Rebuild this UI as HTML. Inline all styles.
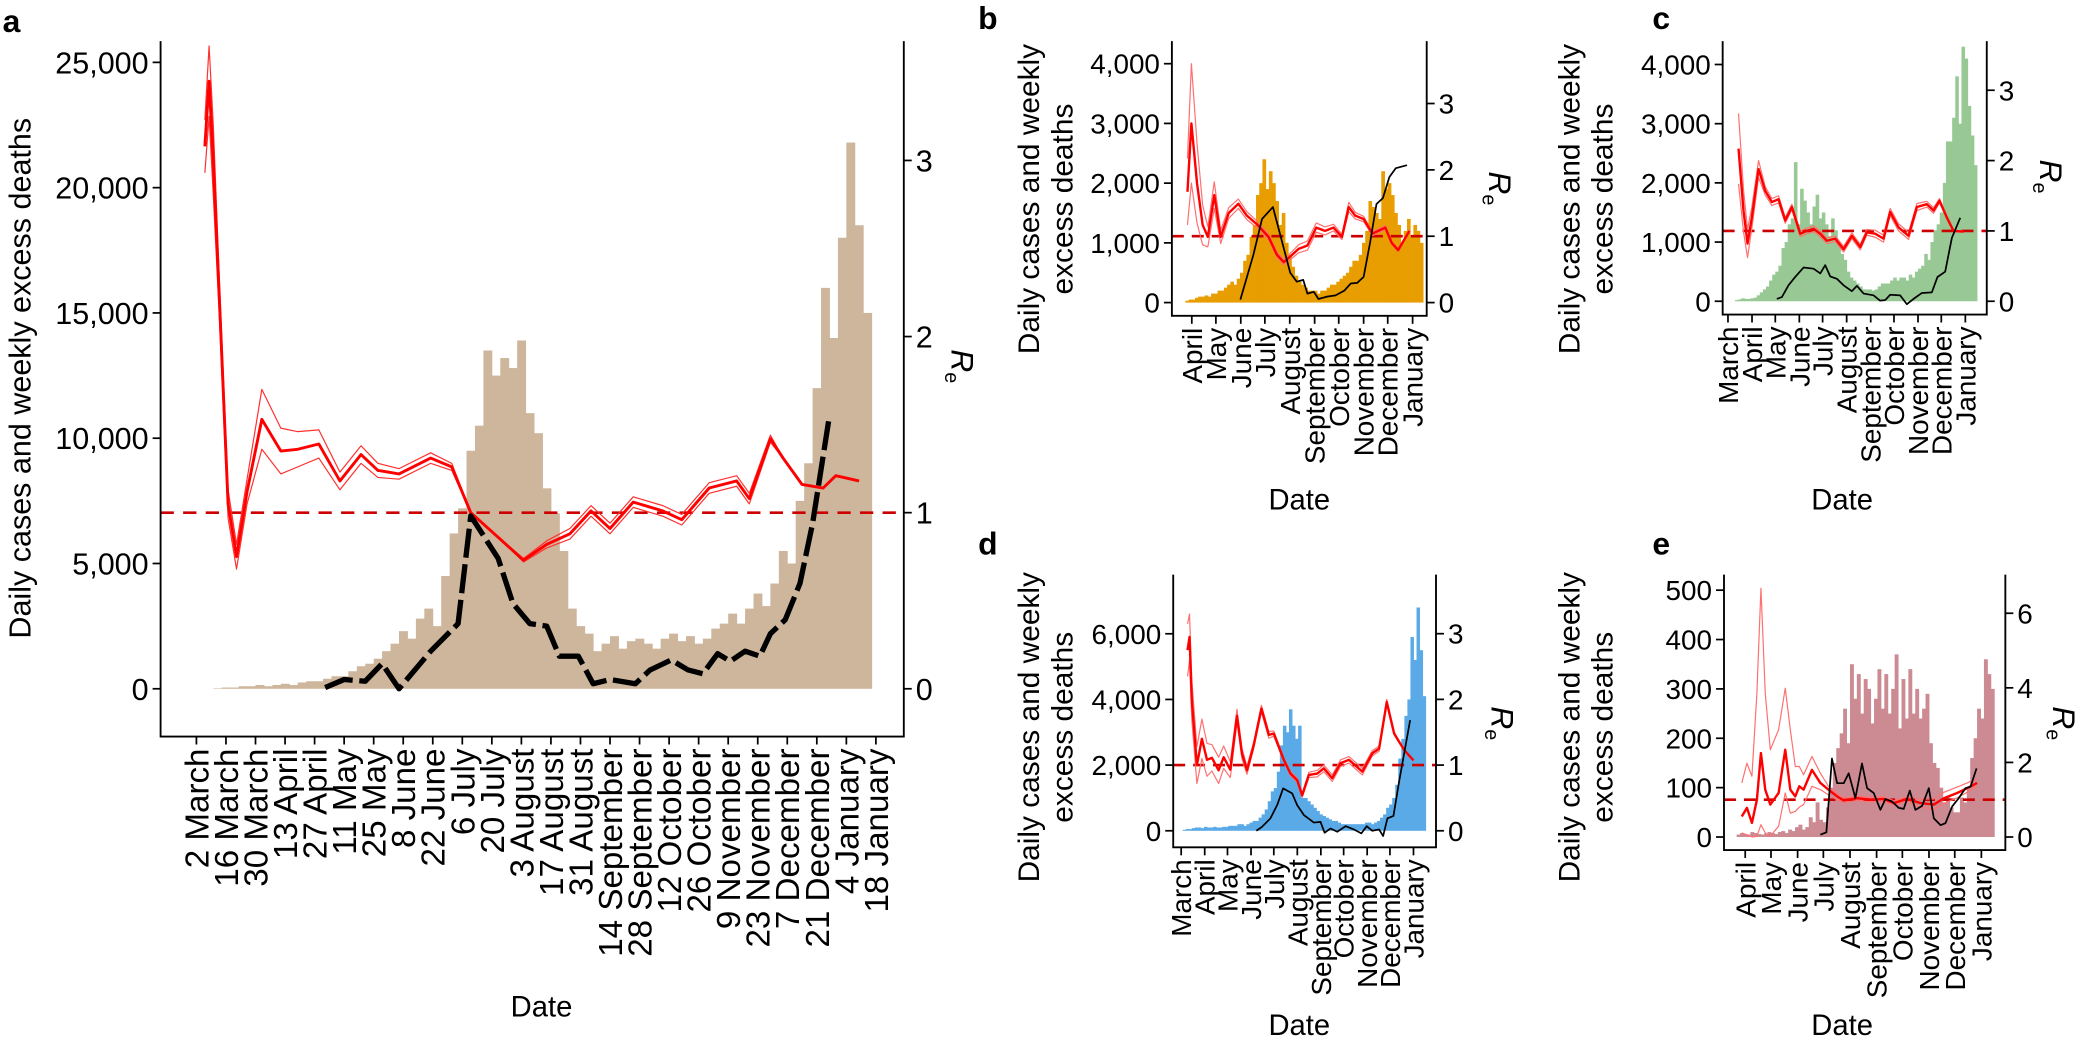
<!DOCTYPE html>
<html><head><meta charset="utf-8"><style>
html,body{margin:0;padding:0;background:#fff;}
svg{display:block;font-family:"Liberation Sans",Arial,sans-serif;}
</style></head><body>
<svg id="fig" xmlns="http://www.w3.org/2000/svg" width="2081" height="1052" viewBox="0 0 1568 792.7" preserveAspectRatio="none"></svg>
<script>
// ---------- DATA ----------
const aDateLabels=['2 March','16 March','30 March','13 April','27 April','11 May','25 May','8 June','22 June','6 July','20 July','3 August','17 August','31 August','14 September','28 September','12 October','26 October','9 November','23 November','7 December','21 December','4 January','18 January'];
const aDateDays=[62,76,90,104,118,132,146,160,174,188,202,216,230,244,258,272,286,300,314,328,342,356,370,384];
const monthsAJ=['April','May','June','July','August','September','October','November','December','January'];
const monthDaysAJ=[92,122,153,183,214,245,275,306,336,367];
const monthsMJ=['March','April','May','June','July','August','September','October','November','December','January'];
const monthDaysMJ=[61,92,122,153,183,214,245,275,306,336,367];

// panel a (bars in thousands, 4-day bins from day 62)
const aBars=[0,0,0.02,0.05,0.05,0.1,0.1,0.15,0.1,0.15,0.2,0.15,0.25,0.3,0.3,
0.4,0.5,0.5,0.7,0.9,1.0,1.2,1.5,1.8,
2.3,2.0,2.8,3.2,2.5,4.5,6.2,7.2,
9.5,10.5,13.5,12.5,13.2,12.8,13.9,11.0,
10.2,8.0,7.0,5.5,3.2,2.5,2.2,
1.5,1.8,2.1,1.6,1.9,2.0,1.8,1.6,2.0,2.2,1.9,2.1,1.8,2.0,2.4,2.6,
3.0,2.6,3.2,3.8,3.3,4.2,5.5,5.0,
7.5,9.0,12.0,16.0,14.0,18.0,21.8,18.5,15.0];
const aReDays=[66,68,70,73,77,81,86,93,102,110,120,130,140,148,158,173,183,192,205,217,228,239,249,258,269,283,292,305,318,324,334,340,349,359,365,376];
const aReMid=[3.08,3.45,3.0,2.18,1.05,0.75,1.12,1.53,1.35,1.36,1.39,1.18,1.33,1.24,1.22,1.31,1.26,1.0,0.86,0.73,0.82,0.88,1.01,0.91,1.06,1.01,0.96,1.14,1.18,1.08,1.42,1.31,1.16,1.14,1.21,1.18];
const aReHw=[0.15,0.2,0.2,0.1,0.08,0.07,0.07,0.17,0.13,0.1,0.08,0.05,0.05,0.04,0.03,0.03,0.02,0,0,0.01,0.02,0.03,0.03,0.03,0.03,0.03,0.03,0.03,0.03,0.03,0.02,0,0,0,0,0];
const aBlkDays=[123,132,142,150,158,173,186,192,205,212,220,228,234,243,250,258,270,277,287,295,302,309,315,322,329,334,341,348,354,362];
const aBlkVals=[0.05,0.37,0.3,1.0,0,1.5,2.6,6.9,5.2,3.4,2.6,2.5,1.3,1.3,0.2,0.37,0.2,0.75,1.15,0.75,0.6,1.4,1.1,1.5,1.3,2.2,2.75,4.2,6.6,10.9];

// panel b
const bBars=[0.03,0.05,0.05,0.08,0.1,0.1,0.12,0.1,0.15,
0.15,0.2,0.2,0.25,0.3,0.35,0.3,0.4,
0.5,0.7,0.8,1.1,1.3,1.8,2.0,
2.4,1.9,2.2,2.0,1.7,1.3,1.5,1.0,
0.8,0.6,0.45,0.35,0.3,0.25,0.2,0.2,
0.2,0.15,0.2,0.2,0.25,0.3,0.3,0.35,
0.4,0.45,0.5,0.6,0.7,0.7,0.8,1.0,
1.2,1.7,1.6,1.5,1.4,2.2,1.9,2.0,
1.8,1.5,1.3,1.0,1.2,1.4,1.1,1.3,1.2,1.0];
const bReDays=[86.6,91.5,98.5,105.5,112,120,128,138,150,160.6,174,187.6,198,206.5,217,225,236,247,258,268.5,279,287.5,295.5,306,317,333,341,349,363];
const bReMid=[1.67,2.7,1.8,1.17,0.99,1.62,0.99,1.35,1.49,1.31,1.17,0.99,0.72,0.61,0.72,0.81,0.86,1.13,1.08,1.13,0.99,1.44,1.31,1.26,1.04,1.13,0.9,0.79,1.08];
const bReHw=[0.5,0.9,0.6,0.3,0.15,0.2,0.1,0.08,0.07,0.06,0.05,0.04,0.04,0.04,0.05,0.06,0.07,0.07,0.06,0.05,0.04,0.07,0.05,0.04,0.03,0.03,0.02,0.02,0.02];
const bBlkDays=[152.5,168.7,179.5,193,214.6,222.7,230.8,236,244,249.7,260.5,271,282,290,298,306,314,322,330,338,346,360];
const bBlkVals=[0.05,0.8,1.4,1.6,0.5,0.35,0.38,0.15,0.18,0.06,0.1,0.12,0.2,0.32,0.33,0.43,1.0,1.65,1.75,2.1,2.25,2.3];

// panel c
const cBars=[0.02,0.03,0.05,0.04,0.04,0.05,0.06,
0.1,0.15,0.2,0.25,0.35,0.45,0.5,
0.6,0.9,1.0,1.3,1.4,2.35,1.3,
1.9,1.7,1.5,1.3,1.6,1.8,1.4,
1.5,1.3,1.1,1.4,1.2,1.0,0.8,
0.7,0.5,0.4,0.35,0.3,0.25,0.2,
0.2,0.2,0.18,0.2,0.25,0.3,0.3,
0.3,0.35,0.4,0.35,0.4,0.4,0.35,
0.45,0.4,0.5,0.55,0.6,0.8,0.7,
1.0,1.2,1.3,1.5,2.0,2.7,2.7,
3.1,3.8,3.0,4.3,4.1,3.3,2.8,2.3];
const cReDays=[74.6,81,86.2,91.8,100.4,109,117.6,126.2,134.8,143.4,154.1,162.7,171.3,179.9,188.5,199.2,210,220.7,231.5,240,250.8,261.5,270.1,280.9,293.8,304.5,317.4,326,333.7,343.2,351.8,364.7];
const cReMid=[2.17,1.29,0.82,1.19,1.88,1.57,1.41,1.45,1.15,1.34,0.96,1.0,1.03,0.96,0.86,0.89,0.74,0.93,0.77,0.98,0.96,0.89,1.27,1.05,0.93,1.34,1.38,1.29,1.43,1.19,1.0,0.99];
const cReHw=[0.5,0.3,0.2,0.15,0.12,0.06,0.05,0.05,0.04,0.04,0.04,0.04,0.04,0.04,0.04,0.04,0.04,0.04,0.04,0.04,0.05,0.05,0.05,0.05,0.05,0.05,0.04,0.04,0.03,0.02,0.01,0.01];
const cBlkDays=[124,130.5,139,147.7,158.4,171.3,180,186.3,192.8,201.4,210,220.7,227.2,235.8,248.6,257.2,263.7,270.1,283,291.6,300.2,311,323.8,331.1,341,349.6,360.4];
const cBlkVals=[0.04,0.07,0.27,0.41,0.57,0.55,0.47,0.61,0.42,0.38,0.27,0.17,0.26,0.13,0.1,0.01,0.02,0.11,0.1,-0.05,0.04,0.14,0.15,0.41,0.5,1.07,1.41];

// panel d
const dBars=[0.03,0.05,0.05,0.08,0.1,0.1,0.08,0.12,0.1,0.1,0.12,0.1,0.1,0.12,0.12,0.15,0.15,0.15,0.2,0.2,0.15,0.2,0.25,0.3,
0.3,0.4,0.5,0.65,0.9,1.2,1.3,1.8,
2.6,3.2,3.0,3.7,3.2,2.8,3.2,1.0,
1.0,0.9,0.8,0.7,0.6,0.5,0.45,0.4,
0.35,0.3,0.3,0.25,0.2,0.2,0.2,0.2,
0.2,0.2,0.2,0.2,0.25,0.25,0.2,0.25,
0.3,0.4,0.5,0.7,0.8,1.0,1.4,2.2,
2.8,3.5,4.0,5.9,5.2,6.8,5.5,4.1];
const dReDays=[69.4,72,75,81.7,88.3,95,101.5,110.3,117,125.7,134.5,141,147.7,156.5,166.7,176.4,183,196.2,205,213.8,220.4,229.2,240.2,249,260,271,282,299.6,312.8,321.7,331.8,341.5,354.7,367];
const dReMid=[2.75,2.95,1.99,1.0,1.40,1.08,1.11,0.92,1.12,0.93,1.75,1.18,0.92,1.30,1.86,1.46,1.48,1.08,0.87,0.77,0.54,0.85,0.87,0.95,0.80,1.03,1.08,0.90,1.18,1.25,1.96,1.48,1.23,1.07];
const dReHw=[0.4,0.35,0.3,0.28,0.3,0.25,0.2,0.2,0.17,0.12,0.1,0.08,0.06,0.05,0.05,0.05,0.04,0.03,0.03,0.03,0.03,0.04,0.05,0.05,0.05,0.05,0.05,0.05,0.04,0.04,0.04,0.02,0.01,0.01];
const dBlkDays=[160,167.5,178.6,187.4,195.3,207.2,213.8,222.6,235.8,244.6,249.9,257.8,266.6,277.6,288.6,298.3,305.4,312.8,321.7,327,332.7,340.6,348,362.6];
const dBlkVals=[0,0.12,0.38,0.78,1.29,1.14,0.78,0.48,0.25,0.27,-0.06,0.07,-0.03,0.14,0.04,-0.08,0.14,0,0.04,-0.16,0.38,0.45,1.49,3.37];

// panel e (counts)
const eBars=[5,8,6,5,10,8,6,5,7,10,8,6,
10,12,8,15,12,20,25,15,20,
40,30,70,35,30,60,
100,150,180,210,260,190,
350,280,330,250,320,300,230,280,340,
260,330,250,300,370,220,320,240,340,
250,300,240,260,290,190,
150,140,100,70,80,60,50,
50,80,70,100,160,
200,260,240,360,330,300];
const eReDays=[88,94,99.8,105.6,110.3,115.3,121.2,130.9,138.6,144.5,150.3,155,160,169.7,179.5,189,198.9,206.7,222.2,237.8,253.3,265,280.5,296,311.6,323.3,338.8,350.5,362];
const eReMid=[0.55,0.78,0.38,1.0,2.25,1.27,0.87,1.18,2.34,1.27,1.09,1.36,1.27,1.8,1.45,1.27,1.09,0.98,1.04,1.0,1.02,0.91,1.02,0.91,0.87,1.04,1.18,1.31,1.45];
const eReHi=[1.45,1.98,1.63,3.86,6.67,3.86,2.34,2.88,3.99,2.88,1.89,1.89,1.67,2.16,1.71,1.36,1.16,1.04,1.1,1.06,1.08,0.97,1.08,1.02,1.02,1.2,1.34,1.45,1.56];
const eReLo=[0.11,0.06,0,0.02,0.33,0.11,0.02,0.29,1.18,0.64,0.69,0.8,0.87,1.36,1.27,1.13,1.0,0.92,0.98,0.94,0.96,0.85,0.96,0.8,0.75,0.9,1.05,1.2,1.37];
const eBlkDays=[179.5,186.5,193,199,206.7,212.5,220.3,228,233.9,241.7,249.4,255.3,263,270.8,276.6,283.6,290.2,298,305.8,311.6,319.4,325.2,333,340.8,348.5,354.4,361.4];
const eBlkVals=[4.7,9.4,159,109,109,129,79,149,99,89,55,77,72,59,57,94,55,63,99,38,24,28,62,79,99,102,139];

// tick label arrays
const aLeftTicks=[0,5,10,15,20,25], aLeftLabels=['0','5,000','10,000','15,000','20,000','25,000'];
const bLeftTicks=[0,1,2,3,4], bLeftLabels=['0','1,000','2,000','3,000','4,000'];
const dLeftTicks=[0,2,4,6], dLeftLabels=['0','2,000','4,000','6,000'];
const eLeftTicks=[0,100,200,300,400,500], eLeftLabels=['0','100','200','300','400','500'];
const re3Ticks=[0,1,2,3], re6Ticks=[0,2,4,6];

// ---------- DRAWING ----------
const NS='http://www.w3.org/2000/svg';
const svg=document.getElementById('fig');
function mk(tag,parent){const e=document.createElementNS(NS,tag);parent.appendChild(e);return e;}
function setA(e,o){for(const k in o)e.setAttribute(k,o[k]);return e;}

function lineFrom(g,xs,ys,stroke,w,dash,name){
  const p=mk('polyline',g);
  setA(p,{points:xs.map((x,i)=>x.toFixed(2)+','+ys[i].toFixed(2)).join(' '),fill:'none',stroke:stroke,'stroke-width':w,'stroke-linejoin':'round','stroke-linecap':'butt'});
  if(dash)p.setAttribute('stroke-dasharray',dash);
  
  
  return p;
}

function drawPanel(c){
  const g=mk('g',svg);
  
  
  const X=d=>c.x0+(d-c.d0)*c.ppd;
  const YL=v=>c.y0-v*c.ppu;
  const YR=r=>c.y0-r*c.ppr;
  const bg=mk('g',g);
  
  
  const bw=c.bin*c.ppd;
  c.bars.forEach((v,i)=>{
    const x=X(c.barStart+i*c.bin);
    const r=mk('rect',bg);
    setA(r,{x:x.toFixed(2),y:YL(v).toFixed(2),width:(bw+0.35).toFixed(2),height:Math.max(0,c.y0-YL(v)).toFixed(2),fill:c.barColor});
    
    
  });
  const dl=mk('line',g);
  setA(dl,{x1:c.left,x2:c.right,y1:YR(1),y2:YR(1),stroke:'#CC0000','stroke-width':c.dashW,'stroke-dasharray':c.dash});
  
  
  const xs=c.reDays.map(X);
  const lo=c.reLo||c.reMid.map((m,i)=>m-c.reHw[i]);
  const hi=c.reHi||c.reMid.map((m,i)=>m+c.reHw[i]);
  lineFrom(g,xs,lo.map(YR),c.bandColor,0.9,null,'re-lower-bound');
  lineFrom(g,xs,hi.map(YR),c.bandColor,0.9,null,'re-upper-bound');
  lineFrom(g,xs,c.reMid.map(YR),'#FF0000',c.midW,null,'re-estimate-line');
  lineFrom(g,c.blkDays.map(X),c.blkVals.map(YL),'#000',c.blkW,c.blkDash,'deaths-line');
  const ax=mk('path',g);
  setA(ax,{d:`M${c.left},${c.top}V${c.bottom}H${c.right}V${c.top}`,fill:'none',stroke:'#000','stroke-width':1.4});
  
  
  c.leftTicks.forEach((v,i)=>{
    const y=YL(v);
    const t=mk('line',g);setA(t,{x1:c.left-6,x2:c.left,y1:y,y2:y,stroke:'#000','stroke-width':1.3});
    
    
    const tx=mk('text',g);setA(tx,{x:c.left-9,y:y+c.fs*0.36,'text-anchor':'end','font-size':c.fs,fill:'#000'});
    tx.textContent=c.leftLabels[i];
    
    
  });
  c.reTicks.forEach(r=>{
    const y=YR(r);
    const t=mk('line',g);setA(t,{x1:c.right,x2:c.right+6,y1:y,y2:y,stroke:'#000','stroke-width':1.3});
    
    
    const tx=mk('text',g);setA(tx,{x:c.right+9,y:y+c.fs*0.36,'font-size':c.fs,fill:'#000'});
    tx.textContent=String(r);
    
    
  });
  c.xDays.forEach((d,i)=>{
    const x=X(d);
    const t=mk('line',g);setA(t,{x1:x,x2:x,y1:c.bottom,y2:c.bottom+6,stroke:'#000','stroke-width':1.3});
    
    
    const tx=mk('text',g);
    setA(tx,{transform:`translate(${(x+c.xfs*0.36).toFixed(2)},${c.bottom+9}) rotate(-90)`,'text-anchor':'end','font-size':c.xfs,fill:'#000'});
    tx.textContent=c.xLabels[i];
    
    
  });
  const xt=mk('text',g);setA(xt,{x:c.dateX,y:c.dateY,'text-anchor':'middle','font-size':c.tfs});
  xt.textContent='Date';
  
  
  c.yTitle.forEach((line,i)=>{
    const t=mk('text',g);
    setA(t,{transform:`translate(${c.yTitleX[i]},${c.yTitleY}) rotate(-90)`,'text-anchor':'middle','font-size':c.ytfs});
    t.textContent=line;
    
    
  });
  const rt=mk('text',g);
  setA(rt,{transform:`translate(${c.reTitleX},${c.reTitleY}) rotate(90)`,'text-anchor':'middle','font-size':c.tfs+2});
  const r1=mk('tspan',rt);r1.setAttribute('font-style','italic');r1.textContent='R';
  const r2=mk('tspan',rt);setA(r2,{'font-size':(c.tfs*0.68).toFixed(1),dy:5});r2.textContent='e';
  
  
  const pl=mk('text',g);setA(pl,{x:c.letterX,y:c.letterY,'font-size':24,'font-weight':'bold'});
  pl.textContent=c.id;
  
  
}

const band='#FF3030', bandLight='#FF7070';
drawPanel({id:'a',left:121,right:681,top:31,bottom:555,d0:62,x0:148,ppd:1.590,y0:519,ppu:18.88,ppr:132.7,
  barColor:'#CDB69C',bars:aBars,barStart:62,bin:4,reDays:aReDays,reMid:aReMid,reHw:aReHw,bandColor:band,midW:2.2,
  blkDays:aBlkDays,blkVals:aBlkVals,blkW:4,blkDash:'22 5',dash:'10 7',dashW:2,
  leftTicks:aLeftTicks,leftLabels:aLeftLabels,reTicks:re3Ticks,xDays:aDateDays,xLabels:aDateLabels,
  fs:23,xfs:25,tfs:22,ytfs:23,dateX:408,dateY:766,yTitle:['Daily cases and weekly excess deaths'],yTitleX:[23],yTitleY:285,
  reTitleX:717,reTitleY:276,letterX:2,letterY:24});
drawPanel({id:'b',left:883,right:1075,top:31,bottom:238,d0:92,x0:898,ppd:0.605,y0:228,ppu:45,ppr:50,
  barColor:'#E89D00',bars:bBars,barStart:84,bin:4,reDays:bReDays,reMid:bReMid,reHw:bReHw,bandColor:bandLight,midW:1.8,
  blkDays:bBlkDays,blkVals:bBlkVals,blkW:1.3,blkDash:null,dash:'9 6',dashW:2,
  leftTicks:bLeftTicks,leftLabels:bLeftLabels,reTicks:re3Ticks,xDays:monthDaysAJ,xLabels:monthsAJ,
  fs:21,xfs:21,tfs:22,ytfs:22.5,dateX:979,dateY:384,yTitle:['Daily cases and weekly','excess deaths'],yTitleX:[783,808],yTitleY:150,
  reTitleX:1122,reTitleY:142,letterX:737,letterY:22});
drawPanel({id:'c',left:1298,right:1497,top:31,bottom:237,d0:61,x0:1302,ppd:0.5845,y0:227,ppu:44.6,ppr:53,
  barColor:'#98C995',bars:cBars,barStart:70,bin:4,reDays:cReDays,reMid:cReMid,reHw:cReHw,bandColor:bandLight,midW:1.8,
  blkDays:cBlkDays,blkVals:cBlkVals,blkW:1.3,blkDash:null,dash:'9 6',dashW:2,
  leftTicks:bLeftTicks,leftLabels:bLeftLabels,reTicks:re3Ticks,xDays:monthDaysMJ,xLabels:monthsMJ,
  fs:21,xfs:21,tfs:22,ytfs:22.5,dateX:1388,dateY:384,yTitle:['Daily cases and weekly','excess deaths'],yTitleX:[1190,1215],yTitleY:150,
  reTitleX:1537,reTitleY:133,letterX:1245,letterY:22});
drawPanel({id:'d',left:884,right:1082,top:433,bottom:638.5,d0:61,x0:890,ppd:0.572,y0:626,ppu:24.74,ppr:49.5,
  barColor:'#5AAAE7',bars:dBars,barStart:63,bin:4,reDays:dReDays,reMid:dReMid,reHw:dReHw,bandColor:bandLight,midW:1.8,
  blkDays:dBlkDays,blkVals:dBlkVals,blkW:1.3,blkDash:null,dash:'9 6',dashW:2,
  leftTicks:dLeftTicks,leftLabels:dLeftLabels,reTicks:re3Ticks,xDays:monthDaysMJ,xLabels:monthsMJ,
  fs:21,xfs:21,tfs:22,ytfs:22.5,dateX:979,dateY:780,yTitle:['Daily cases and weekly','excess deaths'],yTitleX:[783,808],yTitleY:548,
  reTitleX:1124,reTitleY:545,letterX:737,letterY:418});
drawPanel({id:'e',left:1299,right:1511,top:433,bottom:640.5,d0:92,x0:1315,ppd:0.647,y0:630.7,ppu:0.372,ppr:28.1,
  barColor:'#CC8A93',bars:eBars,barStart:82,bin:4,reDays:eReDays,reMid:eReMid,reLo:eReLo,reHi:eReHi,bandColor:bandLight,midW:1.8,
  blkDays:eBlkDays,blkVals:eBlkVals,blkW:1.3,blkDash:null,dash:'9 6',dashW:2,
  leftTicks:eLeftTicks,leftLabels:eLeftLabels,reTicks:re6Ticks,xDays:monthDaysAJ,xLabels:monthsAJ,
  fs:21,xfs:21,tfs:22,ytfs:22.5,dateX:1388,dateY:780,yTitle:['Daily cases and weekly','excess deaths'],yTitleX:[1190,1215],yTitleY:548,
  reTitleX:1547,reTitleY:545,letterX:1245,letterY:418});
</script>
</body></html>
